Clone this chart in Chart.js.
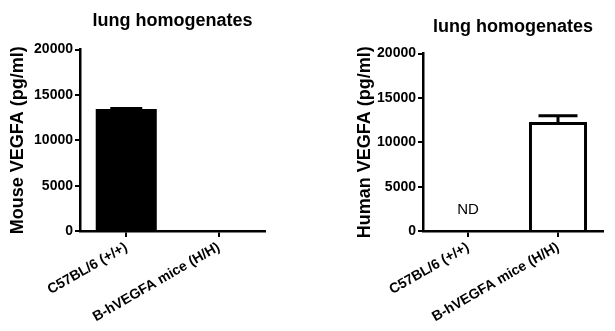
<!DOCTYPE html>
<html>
<head>
<meta charset="utf-8">
<script src="https://cdn.jsdelivr.net/npm/chart.js@4.4.1/dist/chart.umd.min.js"></script>
<style>
  html, body { margin: 0; padding: 0; background: #fff; }
  #wrap { position: relative; width: 615px; height: 331px; }
  .panel { position: absolute; top: 0; height: 331px; }
</style>
</head>
<body>
<div id="wrap">
  <div class="panel" style="left:0;width:310px"><canvas id="chart-mouse" width="310" height="331"></canvas></div>
  <div class="panel" style="left:310px;width:305px"><canvas id="chart-human" width="305" height="331"></canvas></div>
</div>
<script>
/* lung homogenates — mouse vs human VEGFA, bar + SEM */

const categories = ['C57BL/6 (+/+)', 'B-hVEGFA mice (H/H)'];
const yTicks     = [0, 5000, 10000, 15000, 20000];

const mouseMean  = [13450, 0];
const mouseErr   = [120, 0];

const humanMean  = [null, 12300];
const humanErr   = [0, 700];
const humanNotes = ['ND', ''];

const FONT = "'Liberation Sans', Arial, sans-serif";

// draws the upper error bar + cap for each bar
const errorBars = {
  id: 'errorBars',
  afterDatasetsDraw(chart, args, opts) {
    const { ctx, scales: { x, y } } = chart;
    const mean = chart.data.datasets[0].data;
    ctx.save();
    ctx.strokeStyle = '#000';
    ctx.lineWidth = opts.width;
    opts.err.forEach((e, i) => {
      if (mean[i] == null || !e) return;
      const cx = x.getPixelForValue(i);
      const y0 = y.getPixelForValue(mean[i]);
      const y1 = y.getPixelForValue(mean[i] + e);
      ctx.beginPath();
      ctx.moveTo(cx, y0);
      ctx.lineTo(cx, y1);
      ctx.moveTo(cx - opts.cap / 2, y1);
      ctx.lineTo(cx + opts.cap / 2, y1);
      ctx.stroke();
    });
    ctx.restore();
  }
};

// "ND" marker for not detected groups
const notes = {
  id: 'notes',
  afterDatasetsDraw(chart, args, opts) {
    if (!opts.labels) return;
    const { ctx, scales: { x, y } } = chart;
    ctx.save();
    ctx.fillStyle = '#000';
    ctx.font = `15px ${FONT}`;
    ctx.textAlign = 'center';
    ctx.textBaseline = 'middle';
    opts.labels.forEach((t, i) => {
      if (t) ctx.fillText(t, x.getPixelForValue(i), y.getPixelForValue(opts.level));
    });
    ctx.restore();
  }
};

function makeChart(id, cfg) {
  const ctx = document.getElementById(id).getContext('2d');
  return new Chart(ctx, {
    type: 'bar',
    data: {
      labels: categories,
      datasets: [{
        data:            cfg.mean,
        backgroundColor: cfg.fill,
        borderColor:     '#000',
        borderWidth:     cfg.border,
        barPercentage:   cfg.barPct,
        categoryPercentage: 1,
      }]
    },
    options: {
      responsive: false,
      animation: false,
      layout: { padding: { left: 0, right: cfg.padRight, top: 0, bottom: 0 } },
      plugins: {
        legend:  { display: false },
        tooltip: { enabled: false },
        title: {
          display: true,
          text: 'lung homogenates',
          color: '#000',
          fullSize: false,
          font: { family: FONT, size: 18, weight: 'bold' },
          padding: { top: cfg.titleTop, bottom: cfg.titleBottom }
        },
        errorBars: { err: cfg.err, width: cfg.errWidth, cap: cfg.cap },
        notes:     { labels: cfg.notes, level: 2400 }
      },
      scales: {
        x: {
          border: { display: true, color: '#000', width: 2.5 },
          grid: { drawOnChartArea: false, offset: false, color: '#000', lineWidth: 2, tickLength: 6 },
          ticks: {
            color: '#000', minRotation: 30, maxRotation: 30, padding: 2,
            font: { family: FONT, size: 14, weight: 'bold' }
          },
          afterFit: s => { s.height = 100; }
        },
        y: {
          min: 0, max: 20000,
          border: { display: true, color: '#000', width: 2.5 },
          grid: { drawOnChartArea: false, color: '#000', lineWidth: 2, tickLength: 5 },
          afterBuildTicks: s => { s.ticks = yTicks.map(v => ({ value: v })); },
          ticks: {
            color: '#000', padding: 2,
            font: { family: FONT, size: 14, weight: 'bold' },
            callback: v => String(v)
          },
          title: {
            display: true,
            text: cfg.yTitle,
            color: '#000',
            font: { family: FONT, size: 18, weight: 'bold' },
            padding: { top: cfg.yTitlePad, bottom: 0 }
          },
          afterFit: s => { s.width = cfg.axisLeft; }
        }
      }
    },
    plugins: [errorBars, notes]
  });
}

makeChart('chart-mouse', {
  mean: mouseMean, err: mouseErr, notes: null,
  fill: '#000', border: 0, barPct: 0.66,
  errWidth: 2, cap: 32,
  yTitle: 'Mouse VEGFA (pg/ml)', yTitlePad: 7,
  axisLeft: 80, padRight: 45, titleTop: 10, titleBottom: 18
});

makeChart('chart-human', {
  mean: humanMean, err: humanErr, notes: humanNotes,
  fill: '#fff', border: 3, barPct: 0.645,
  errWidth: 3, cap: 39,
  yTitle: 'Human VEGFA (pg/ml)', yTitlePad: 44,
  axisLeft: 113, padRight: 12, titleTop: 16, titleBottom: 16
});
</script>
</body>
</html>
